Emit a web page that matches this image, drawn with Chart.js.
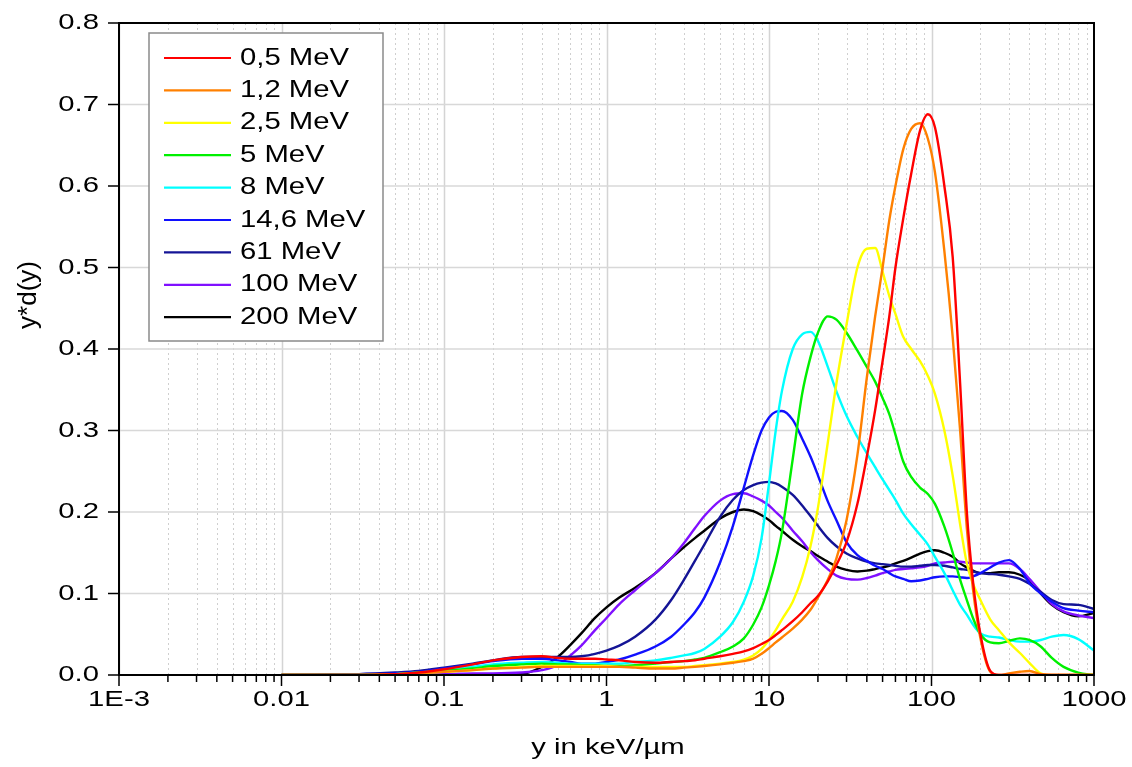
<!DOCTYPE html>
<html>
<head>
<meta charset="utf-8">
<script src="https://cdn.jsdelivr.net/npm/chart.js@4.4.0/dist/chart.umd.min.js"></script>
<style>
  html, body { margin: 0; padding: 0; background: #fff; }
  #wrap { width: 1132px; height: 767px; }
</style>
</head>
<body>
<div id="wrap"><canvas id="myChart" width="1132" height="767"></canvas></div>
<script>
// lineal energy y (keV/µm), shared by every curve
const lineal = [0.01, 0.03, 0.05, 0.07, 0.1, 0.15, 0.2, 0.3, 0.4, 0.5, 0.6, 0.7, 0.85,
    1, 1.2, 1.5, 2, 2.5, 3, 3.5, 4, 5, 6, 7, 8, 9,
    10, 11, 12, 14, 16, 18, 20, 23, 26, 30, 35, 40, 45, 50, 55, 60, 67, 75, 85, 95,
    105, 120, 135, 150, 165, 180, 200, 230, 260, 300, 350, 400, 470, 550, 650, 800, 1000];

// y*d(y) for each proton energy
const mev0_5 = [0, 0, 0.001, 0.003, 0.007, 0.013, 0.018, 0.022, 0.023, 0.021, 0.020, 0.020, 0.020,
    0.019, 0.018, 0.016, 0.015, 0.016, 0.017, 0.018, 0.020, 0.023, 0.026, 0.029, 0.033, 0.038,
    0.043, 0.049, 0.055, 0.066, 0.077, 0.088, 0.097, 0.115, 0.135, 0.163, 0.21, 0.268, 0.325, 0.385, 0.44, 0.50, 0.56, 0.615, 0.668, 0.688,
    0.672, 0.600, 0.513, 0.358, 0.20, 0.115, 0.05, 0.005, 0, 0, 0, 0, 0, 0, 0, 0, 0];
const mev1_2 = [0, 0, 0.001, 0.002, 0.004, 0.006, 0.008, 0.009, 0.010, 0.010, 0.010, 0.010, 0.010,
    0.010, 0.010, 0.009, 0.008, 0.008, 0.009, 0.010, 0.011, 0.013, 0.015, 0.017, 0.020, 0.026,
    0.033, 0.040, 0.046, 0.057, 0.068, 0.080, 0.095, 0.117, 0.143, 0.19, 0.27, 0.365, 0.44, 0.50, 0.558, 0.60, 0.645, 0.670, 0.677, 0.658,
    0.617, 0.52, 0.415, 0.30, 0.18, 0.105, 0.045, 0.004, 0, 0.002, 0.004, 0.005, 0.001, 0, 0, 0, 0];
const mev2_5 = [0, 0, 0.001, 0.002, 0.004, 0.006, 0.008, 0.010, 0.011, 0.011, 0.011, 0.011, 0.011,
    0.011, 0.010, 0.010, 0.010, 0.010, 0.010, 0.011, 0.012, 0.014, 0.016, 0.019, 0.024, 0.032,
    0.043, 0.055, 0.068, 0.09, 0.12, 0.158, 0.205, 0.285, 0.358, 0.43, 0.50, 0.523, 0.524, 0.495, 0.465, 0.443, 0.415, 0.400, 0.385, 0.367,
    0.345, 0.30, 0.245, 0.185, 0.137, 0.112, 0.092, 0.068, 0.055, 0.04, 0.027, 0.015, 0.002, 0, 0, 0, 0];
const mev5 = [0, 0, 0.001, 0.003, 0.005, 0.008, 0.011, 0.013, 0.014, 0.013, 0.013, 0.012, 0.012,
    0.011, 0.011, 0.012, 0.014, 0.016, 0.017, 0.019, 0.021, 0.028, 0.035, 0.045, 0.062, 0.083,
    0.11, 0.14, 0.175, 0.265, 0.345, 0.39, 0.42, 0.44, 0.436, 0.42, 0.398, 0.378, 0.36, 0.34, 0.32, 0.295, 0.262, 0.243, 0.23, 0.222,
    0.21, 0.182, 0.15, 0.117, 0.092, 0.07, 0.05, 0.04, 0.039, 0.042, 0.045, 0.043, 0.035, 0.021, 0.01, 0.003, 0];
const mev8 = [0, 0, 0.001, 0.003, 0.006, 0.010, 0.013, 0.015, 0.016, 0.015, 0.014, 0.014, 0.014,
    0.014, 0.014, 0.016, 0.018, 0.021, 0.024, 0.027, 0.032, 0.047, 0.065, 0.09, 0.122, 0.168,
    0.235, 0.30, 0.348, 0.40, 0.418, 0.421, 0.41, 0.378, 0.348, 0.318, 0.292, 0.272, 0.255, 0.24, 0.227, 0.215, 0.198, 0.185, 0.172, 0.16,
    0.145, 0.125, 0.104, 0.086, 0.074, 0.062, 0.051, 0.047, 0.046, 0.043, 0.041, 0.041, 0.043, 0.047, 0.049, 0.044, 0.030];
const mev14_6 = [0, 0.001, 0.002, 0.004, 0.008, 0.013, 0.017, 0.020, 0.020, 0.018, 0.016, 0.014, 0.014,
    0.016, 0.019, 0.025, 0.035, 0.047, 0.062, 0.077, 0.095, 0.138, 0.183, 0.23, 0.27, 0.3,
    0.316, 0.323, 0.324, 0.313, 0.29, 0.268, 0.245, 0.213, 0.19, 0.163, 0.147, 0.14, 0.134, 0.13, 0.125, 0.121, 0.118, 0.115, 0.116, 0.118,
    0.12, 0.121, 0.121, 0.12, 0.119, 0.121, 0.125, 0.132, 0.138, 0.141, 0.13, 0.113, 0.1, 0.09, 0.082, 0.079, 0.077];
const mev61 = [0, 0.001, 0.003, 0.005, 0.009, 0.014, 0.018, 0.022, 0.022, 0.022, 0.022, 0.023, 0.026,
    0.030, 0.036, 0.047, 0.068, 0.092, 0.117, 0.14, 0.16, 0.194, 0.215, 0.227, 0.233, 0.236,
    0.237, 0.235, 0.231, 0.221, 0.208, 0.195, 0.183, 0.168, 0.158, 0.149, 0.143, 0.139, 0.137, 0.136, 0.135, 0.134, 0.133, 0.133, 0.134, 0.135,
    0.135, 0.134, 0.132, 0.13, 0.129, 0.127, 0.125, 0.124, 0.123, 0.121, 0.118, 0.112, 0.102, 0.092, 0.087, 0.086, 0.081];
const mev100 = [0, 0, 0, 0.001, 0.001, 0.002, 0.002, 0.003, 0.006, 0.012, 0.024, 0.036, 0.055,
    0.07, 0.087, 0.104, 0.125, 0.143, 0.162, 0.18, 0.195, 0.214, 0.222, 0.223, 0.219, 0.214,
    0.208, 0.2, 0.193, 0.177, 0.164, 0.151, 0.141, 0.13, 0.122, 0.118, 0.117, 0.119, 0.122, 0.125, 0.127, 0.129, 0.13, 0.131, 0.132, 0.134,
    0.137, 0.138, 0.139, 0.139, 0.138, 0.137, 0.137, 0.137, 0.137, 0.137, 0.13, 0.118, 0.102, 0.087, 0.078, 0.073, 0.07];
const mev200 = [0, 0, 0, 0, 0, 0, 0, 0.001, 0.01, 0.022, 0.037, 0.051, 0.07,
    0.083, 0.095, 0.107, 0.125, 0.143, 0.157, 0.168, 0.177, 0.192, 0.2, 0.203, 0.201, 0.196,
    0.19, 0.183, 0.177, 0.166, 0.158, 0.152, 0.146, 0.139, 0.133, 0.129, 0.127, 0.128, 0.13, 0.132, 0.134, 0.137, 0.14, 0.144, 0.149, 0.152,
    0.153, 0.15, 0.145, 0.137, 0.132, 0.128, 0.125, 0.125, 0.126, 0.126, 0.123, 0.116, 0.1, 0.086, 0.077, 0.072, 0.076];

const seriesLabels = ['0,5 MeV', '1,2 MeV', '2,5 MeV', '5 MeV', '8 MeV', '14,6 MeV', '61 MeV', '100 MeV', '200 MeV'];
const seriesValues = [mev0_5, mev1_2, mev2_5, mev5, mev8, mev14_6, mev61, mev100, mev200];
const seriesColors = ['#ff0000', '#ff8000', '#ffff00', '#00f000', '#00ffff', '#1010ff', '#141496', '#8010ff', '#000000'];

const xTickLabels = ['1E-3', '0.01', '0.1', '1', '10', '100', '1000'];
const yTickLabels = ['0.0', '0.1', '0.2', '0.3', '0.4', '0.5', '0.6', '0.7', '0.8'];

const FONT = '"Liberation Sans", Arial, sans-serif';

// text in this plot is wide, so draw it with a horizontal stretch
function wideText(ctx, text, x, y, size, sx, align) {
    ctx.save();
    ctx.font = size + 'px ' + FONT;
    ctx.fillStyle = '#000';
    ctx.textAlign = align;
    ctx.textBaseline = 'middle';
    ctx.translate(x, y);
    ctx.scale(sx, 1);
    ctx.fillText(text, 0, 0);
    ctx.restore();
}

const framePlugin = {
    id: 'frame',
    beforeDatasetsDraw(chart) {
        const ctx = chart.ctx;
        const xs = chart.scales.x, ys = chart.scales.y;
        const area = chart.chartArea;
        ctx.save();
        // vertical grid: solid at decades, dotted in between
        for (let e = -3; e <= 2; e++) {
            for (let m = 1; m <= 9; m++) {
                const px = Math.round(xs.getPixelForValue(m * Math.pow(10, e))) + 0.5;
                ctx.beginPath();
                if (m === 1) {
                    ctx.setLineDash([]);
                    ctx.strokeStyle = '#d4d4d4';
                    ctx.lineWidth = 1.5;
                } else {
                    ctx.setLineDash([2, 3]);
                    ctx.strokeStyle = '#cfcfcf';
                    ctx.lineWidth = 1;
                }
                ctx.moveTo(px, area.top);
                ctx.lineTo(px, area.bottom);
                ctx.stroke();
            }
        }
        ctx.setLineDash([]);
        ctx.strokeStyle = '#d8d8d8';
        ctx.lineWidth = 1.5;
        for (let i = 1; i < yTickLabels.length - 1; i++) {
            const py = ys.getPixelForValue(parseFloat(yTickLabels[i]));
            ctx.beginPath();
            ctx.moveTo(area.left, py);
            ctx.lineTo(area.right, py);
            ctx.stroke();
        }
        ctx.restore();
    },
    afterDatasetsDraw(chart) {
        const ctx = chart.ctx;
        const xs = chart.scales.x, ys = chart.scales.y;
        const area = chart.chartArea;
        ctx.save();
        ctx.strokeStyle = '#000';
        ctx.lineWidth = 2;
        ctx.strokeRect(area.left, area.top, area.right - area.left, area.bottom - area.top);

        // x ticks and labels
        ctx.lineWidth = 1.5;
        for (let e = -3; e <= 3; e++) {
            for (let m = 1; m <= 9; m++) {
                if (e === 3 && m > 1) break;
                const px = xs.getPixelForValue(m * Math.pow(10, e));
                ctx.beginPath();
                ctx.moveTo(px, area.bottom);
                ctx.lineTo(px, area.bottom + (m === 1 ? 11 : 7));
                ctx.stroke();
            }
        }
        xTickLabels.forEach((t, i) => {
            const px = xs.getPixelForValue(Math.pow(10, i - 3));
            wideText(ctx, t, px, area.bottom + 25, 22, 1.33, 'center');
        });

        // y ticks and labels
        yTickLabels.forEach(t => {
            const py = ys.getPixelForValue(parseFloat(t));
            ctx.beginPath();
            ctx.moveTo(area.left - 11, py);
            ctx.lineTo(area.left, py);
            ctx.stroke();
            wideText(ctx, t, area.left - 20, py, 22, 1.33, 'right');
        });

        // axis titles
        wideText(ctx, 'y in keV/\u00b5m', 608, 748, 22, 1.33, 'center');
        ctx.save();
        ctx.translate(29, 295);
        ctx.rotate(-Math.PI / 2);
        ctx.font = '26px ' + FONT;
        ctx.fillStyle = '#000';
        ctx.textAlign = 'center';
        ctx.textBaseline = 'middle';
        ctx.fillText('y*d(y)', 0, 0);
        ctx.restore();

        // legend box
        const lx = 149, ly = 33, lw = 234, lh = 308;
        ctx.fillStyle = '#fff';
        ctx.fillRect(lx, ly, lw, lh);
        ctx.strokeStyle = '#8a8a8a';
        ctx.lineWidth = 1.5;
        ctx.strokeRect(lx, ly, lw, lh);
        chart.data.datasets.forEach((ds, i) => {
            const yy = 58 + i * 32.4;
            ctx.strokeStyle = ds.borderColor;
            ctx.lineWidth = 2.2;
            ctx.beginPath();
            ctx.moveTo(164, yy);
            ctx.lineTo(231, yy);
            ctx.stroke();
            wideText(ctx, ds.label, 240, yy, 24, 1.22, 'left');
        });
        ctx.restore();
    }
};

const ctx = document.getElementById('myChart').getContext('2d');

const myChart = new Chart(ctx, {
    type: 'line',
    data: {
        datasets: seriesValues.map((vals, i) => ({
            label: seriesLabels[i],
            data: vals.map((v, j) => ({ x: lineal[j], y: v })),
            borderColor: seriesColors[i],
            backgroundColor: seriesColors[i],
            borderWidth: 2.4,
            pointRadius: 0,
            fill: false,
            cubicInterpolationMode: 'monotone'
        }))
    },
    options: {
        responsive: false,
        animation: false,
        layout: { padding: { top: 23, right: 38, left: 0, bottom: 0 } },
        plugins: {
            legend: { display: false },
            tooltip: { enabled: false }
        },
        scales: {
            x: {
                type: 'logarithmic',
                min: 0.001,
                max: 1000,
                grid: { display: false },
                border: { display: false },
                ticks: { display: false },
                afterFit(scale) { scale.height = 92; }
            },
            y: {
                min: 0,
                max: 0.8,
                grid: { display: false },
                border: { display: false },
                ticks: { display: false },
                afterFit(scale) { scale.width = 119; }
            }
        }
    },
    plugins: [framePlugin]
});
</script>
</body>
</html>
